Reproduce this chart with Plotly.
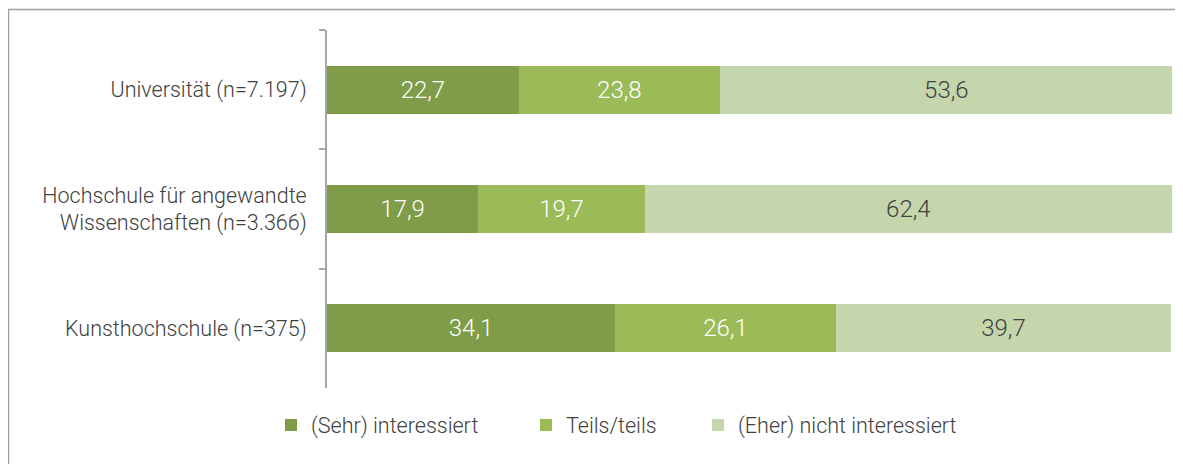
import plotly.graph_objects as go

categories = ["Universität (n=7.197)",
              "Hochschule für angewandte<br>Wissenschaften (n=3.366)",
              "Kunsthochschule (n=375)"]
series_names = ["(Sehr) interessiert", "Teils/teils", "(Eher) nicht interessiert"]
sehr = [22.7, 17.9, 34.1]
teils = [23.8, 19.7, 26.1]
eher_nicht = [53.6, 62.4, 39.7]

colors = ["#7F9C48", "#9BBB59", "#C6D6AC"]
label_colors = ["#FFFFFF", "#FFFFFF", "#404040"]
legend_ids = ["legend", "legend2", "legend3"]
legend_marker_px = [285, 540, 712]   # page x of legend markers

OFF = 8  # page body margin
W, H = 1175, 456
ml, mr, mt, mb = 327 - OFF, 11, 30 - OFF, 76
pw, ph = W - ml - mr, H - mt - mb
FONT = "Roboto"

fig = go.Figure()
for name, vals, c, lc, lg in zip(series_names, [sehr, teils, eher_nicht], colors, label_colors, legend_ids):
    fig.add_trace(go.Bar(
        y=categories, x=vals, name=name, orientation="h",
        marker=dict(color=c, line=dict(width=0)),
        width=0.4, legend=lg,
        texttemplate="%{x:.1f}", textposition="inside", insidetextanchor="middle",
        textfont=dict(color=lc, size=24, family=FONT, weight=300),
        hoverinfo="skip",
    ))

def px_x(p):
    return (p - OFF - ml) / pw

def px_y(p):
    return 1 - (p - OFF - mt) / ph

leg_common = dict(orientation="h", xanchor="left", yanchor="middle", y=px_y(425),
                  font=dict(size=21.5, color="#404040", family=FONT, weight=300), itemwidth=30,
                  bgcolor="rgba(0,0,0,0)")
legends = {}
for lg, mx in zip(legend_ids, legend_marker_px):
    legends[lg] = dict(leg_common, x=px_x(mx - 14))

fig.update_layout(
    width=W, height=H,
    barmode="stack",
    separators=",.",
    plot_bgcolor="white", paper_bgcolor="white",
    margin=dict(l=ml, r=mr, t=mt, b=mb),
    font=dict(family=FONT, size=21.5, color="#404040", weight=300),
    showlegend=True,
    xaxis=dict(range=[0, 100], visible=False, showgrid=False, zeroline=False, fixedrange=True),
    yaxis=dict(autorange="reversed", showline=True, linecolor="#A6A6A6", linewidth=2,
               ticks="outside", tickson="boundaries", ticklen=6, tickcolor="#A6A6A6",
               tickwidth=1.5, showgrid=False, ticklabelstandoff=14,
               tickfont=dict(size=21.5, color="#404040", family=FONT, weight=300)),
    shapes=[dict(type="rect", xref="paper", yref="paper",
                 x0=px_x(8.5), x1=px_x(1250), y0=px_y(520), y1=px_y(9.5),
                 line=dict(color="#A0A0A0", width=1.5), fillcolor="rgba(0,0,0,0)", layer="below")],
    **legends,
)

fig.write_html("out.html")
